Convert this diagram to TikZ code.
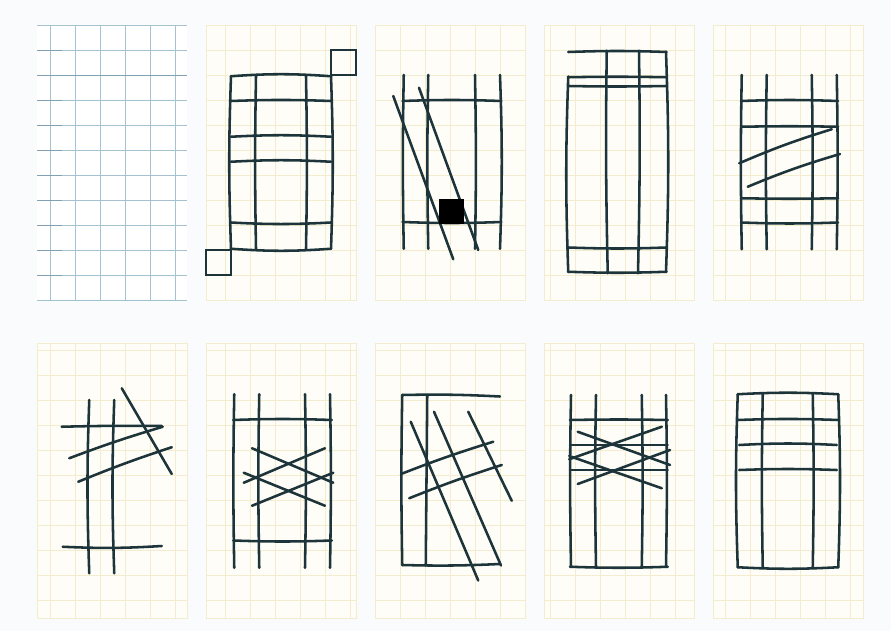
\documentclass[tikz,border=0pt]{standalone}
\usepackage{xcolor}
\usepackage{tikz}
\definecolor{ink}{RGB}{28,52,58}
\definecolor{paper}{RGB}{250,251,252}
\definecolor{cream}{RGB}{255,253,247}
\definecolor{pale}{RGB}{243,236,206}
\definecolor{blueline}{RGB}{165,194,210}
\definecolor{steel}{RGB}{130,160,180}
\tikzset{pen/.style={line width=2.9pt, draw=ink, line cap=round},
  sheet/.style={fill=cream, draw=pale, line width=1pt}}

\begin{document}
\begin{tikzpicture}[x=1cm, y=-1cm]
  \useasboundingbox (0,0) rectangle (35.64,25.24);
  \fill[paper] (0,0) rectangle (35.64,25.24);
  \fill[white] (1.48,1) rectangle (7.48,12);
  \draw[blueline, line width=1.1pt] (1.48,1) grid (7.48,12);
  \draw[steel, line width=1.1pt] (1.48,3) -- (7.48,3) (1.48,2) -- (2.48,2) (1.48,4) -- (2.48,4) (1.48,5) -- (2.48,5)
    (1.48,6) -- (2.48,6) (1.48,7) -- (2.48,7) (1.48,8) -- (2.48,8) (1.48,9) -- (2.48,9) (1.48,10) -- (2.48,10) (1.48,11) -- (2.48,11);
  \draw[sheet] (8.24,1) rectangle (14.24,12);   \draw[pale, line width=1pt] (8.24,1) grid (14.24,12);
  \draw[sheet] (15,1) rectangle (21,12);        \draw[pale, line width=1pt] (15,1) grid (21,12);
  \draw[sheet] (21.76,1) rectangle (27.76,12);  \draw[pale, line width=1pt] (21.76,1) grid (27.76,12);
  \draw[sheet] (28.52,1) rectangle (34.52,12);  \draw[pale, line width=1pt] (28.52,1) grid (34.52,12);
  \draw[sheet] (1.48,13.72) rectangle (7.48,24.72);   \draw[pale, line width=1pt] (1.48,13.72) grid (7.48,24.72);
  \draw[sheet] (8.24,13.72) rectangle (14.24,24.72);  \draw[pale, line width=1pt] (8.24,13.72) grid (14.24,24.72);
  \draw[sheet] (15,13.72) rectangle (21,24.72);       \draw[pale, line width=1pt] (15,13.72) grid (21,24.72);
  \draw[sheet] (21.76,13.72) rectangle (27.76,24.72); \draw[pale, line width=1pt] (21.76,13.72) grid (27.76,24.72);
  \draw[sheet] (28.52,13.72) rectangle (34.52,24.72); \draw[pale, line width=1pt] (28.52,13.72) grid (34.52,24.72);

  \begin{scope}[shift={(8.24,1)}]
    \draw[pen] (5,1) rectangle (6,2);  \draw[pen] (0,9) rectangle (1,10);
    \draw[pen] (1,2.05) to[bend right=2] (1,8.95);  \draw[pen] (2,2.05) to[bend right=1] (2,8.95);
    \draw[pen] (4,2.05) to[bend left=1] (4,8.95);   \draw[pen] (5,2.05) to[bend left=2] (5,8.95);
    \draw[pen] (1,2.05) to[bend left=4] (5,2.05);   \draw[pen] (1,3.04) to[bend left=2] (5,3.04);
    \draw[pen] (1,4.47) to[bend left=3] (5,4.47);   \draw[pen] (1,5.47) to[bend left=3] (5,5.47);
    \draw[pen] (1,7.9) to[bend right=3] (5,7.9);    \draw[pen] (1,8.95) to[bend right=4] (5,8.95);
  \end{scope}

  \begin{scope}[shift={(15,1)}]
    \draw[pen] (1.15,2) to[bend right=1] (1.15,8.95);  \draw[pen] (2.13,2) to[bend right=1] (2.13,8.95);
    \draw[pen] (4,2) to[bend left=1] (4,8.95);         \draw[pen] (5,2) to[bend left=2] (5,8.95);
    \draw[pen] (1.1,3.04) to[bend left=2] (5.05,3.04); \draw[pen] (1.1,7.88) to[bend right=2] (5.05,7.88);
    \draw[pen] (0.73,2.84) -- (3.13,9.37);  \draw[pen] (1.76,2.51) -- (4.13,9.0);
    \fill[black] (2.56,6.96) rectangle (3.57,7.96);
  \end{scope}

  \begin{scope}[shift={(21.76,1)}]
    \draw[pen] (0.97,2.06) to[bend right=2] (0.97,9.88);  \draw[pen] (4.88,1.07) to[bend left=2] (4.88,9.88);
    \draw[pen] (2.51,1.03) to[bend right=1] (2.55,9.93);  \draw[pen] (3.8,1.03) to[bend left=1] (3.76,9.93);
    \draw[pen] (0.97,1.08) to[bend left=2] (4.9,1.08);    \draw[pen] (0.97,2.09) to[bend left=1] (4.9,2.09);
    \draw[pen] (0.97,2.44) to[bend right=1] (4.9,2.44);   \draw[pen] (0.97,8.9) to[bend right=2] (4.9,8.9);
    \draw[pen] (0.97,9.87) to[bend right=2] (4.9,9.87);
  \end{scope}

  \begin{scope}[shift={(28.52,1)}]
    \draw[pen] (1.15,2) to[bend right=1] (1.15,8.97);   \draw[pen] (2.15,2) to[bend right=1] (2.15,8.97);
    \draw[pen] (3.95,2) to[bend left=1] (3.95,8.97);    \draw[pen] (4.95,2) to[bend left=1] (4.95,8.97);
    \draw[pen] (1.12,3.04) to[bend left=2] (5,3.04);    \draw[pen] (1.12,4.07) to[bend left=1] (5,4.07);
    \draw[pen] (1.12,6.93) to[bend right=1] (5,6.93);   \draw[pen] (1.12,7.9) to[bend right=2] (5,7.9);
    \draw[pen] (1.05,5.53) to[bend left=3] (4.75,4.17); \draw[pen] (1.39,6.47) to[bend left=3] (5.08,5.16);
  \end{scope}

  \begin{scope}[shift={(1.48,13.72)}]
    \draw[pen] (2.09,2.28) to[bend right=2] (2.09,9.21);  \draw[pen] (3.09,2.28) to[bend right=2] (3.09,9.21);
    \draw[pen] (0.99,3.35) to[bend left=1] (4.99,3.32);   \draw[pen] (1.03,8.15) to[bend right=3] (4.99,8.12);
    \draw[pen] (1.29,4.61) to[bend left=2] (5.03,3.35);   \draw[pen] (1.65,5.55) to[bend left=2] (5.39,4.17);
    \draw[pen] (3.39,1.81) -- (5.39,5.24);
  \end{scope}

  \begin{scope}[shift={(8.24,13.72)}]
    \draw[pen] (1.13,2.05) to[bend right=1] (1.13,8.99);  \draw[pen] (2.13,2.05) to[bend right=1] (2.13,8.99);
    \draw[pen] (3.96,2.05) to[bend left=1] (3.96,8.99);   \draw[pen] (4.96,2.05) to[bend left=1] (4.96,8.99);
    \draw[pen] (1.09,3.08) to[bend left=2] (5.03,3.08);   \draw[pen] (1.09,7.9) to[bend right=2] (5.03,7.9);
    \draw[pen] (1.84,4.21) -- (5.09,5.59);  \draw[pen] (1.84,6.51) -- (5.09,5.19);
    \draw[pen] (1.51,5.19) -- (4.76,6.51);  \draw[pen] (1.51,5.59) -- (4.76,4.21);
  \end{scope}

  \begin{scope}[shift={(15,13.72)}]
    \draw[pen] (1.09,2.08) to[bend right=1] (1.09,8.88);  \draw[pen] (2.09,2.08) -- (2.03,8.9);
    \draw[pen] (1.09,2.08) to[bend left=2] (5,2.14);      \draw[pen] (1.09,8.88) to[bend right=2] (5,8.84);
    \draw[pen] (1.43,3.15) -- (4.13,9.5);   \draw[pen] (2.36,2.75) -- (5.04,8.9);
    \draw[pen] (3.73,2.75) -- (5.47,6.31);
    \draw[pen] (1.04,5.24) to[bend left=2] (4.73,3.95);   \draw[pen] (1.37,6.21) to[bend left=2] (5.07,4.88);
  \end{scope}

  \begin{scope}[shift={(21.76,13.72)}]
    \draw[pen] (1.08,2.08) to[bend right=1] (1.08,8.95);  \draw[pen] (2.08,2.08) to[bend right=1] (2.08,8.95);
    \draw[pen] (3.91,2.08) to[bend left=1] (3.91,8.95);   \draw[pen] (4.88,2.08) to[bend left=1] (4.88,8.95);
    \draw[pen] (1.04,3.08) to[bend left=1] (4.95,3.08);   \draw[pen] (1.04,4.08) -- (4.95,4.08);
    \draw[pen] (1.04,5.08) -- (4.95,5.08);                \draw[pen] (1.04,8.95) to[bend right=2] (4.95,8.95);
    \draw[pen] (1.35,3.55) -- (5.04,4.88);  \draw[pen] (4.71,3.35) -- (1.01,4.65);
    \draw[pen] (1.01,4.52) -- (4.71,5.81);  \draw[pen] (1.35,5.64) -- (5.04,4.28);
  \end{scope}

  \begin{scope}[shift={(28.52,13.72)}]
    \draw[pen] (0.99,2.05) to[bend right=2] (0.99,8.97);  \draw[pen] (1.99,2.05) to[bend right=1] (1.99,8.97);
    \draw[pen] (3.99,2.05) to[bend left=1] (3.99,8.97);   \draw[pen] (5.01,2.05) to[bend left=2] (5.01,8.97);
    \draw[pen] (0.99,2.05) to[bend left=3] (5.01,2.05);   \draw[pen] (0.99,3.08) to[bend left=2] (5.01,3.08);
    \draw[pen] (1.05,4.08) to[bend left=3] (4.95,4.08);   \draw[pen] (1.05,5.08) to[bend left=2] (4.95,5.08);
    \draw[pen] (0.99,8.97) to[bend right=3] (5.01,8.97);
  \end{scope}
\end{tikzpicture}
\end{document}
